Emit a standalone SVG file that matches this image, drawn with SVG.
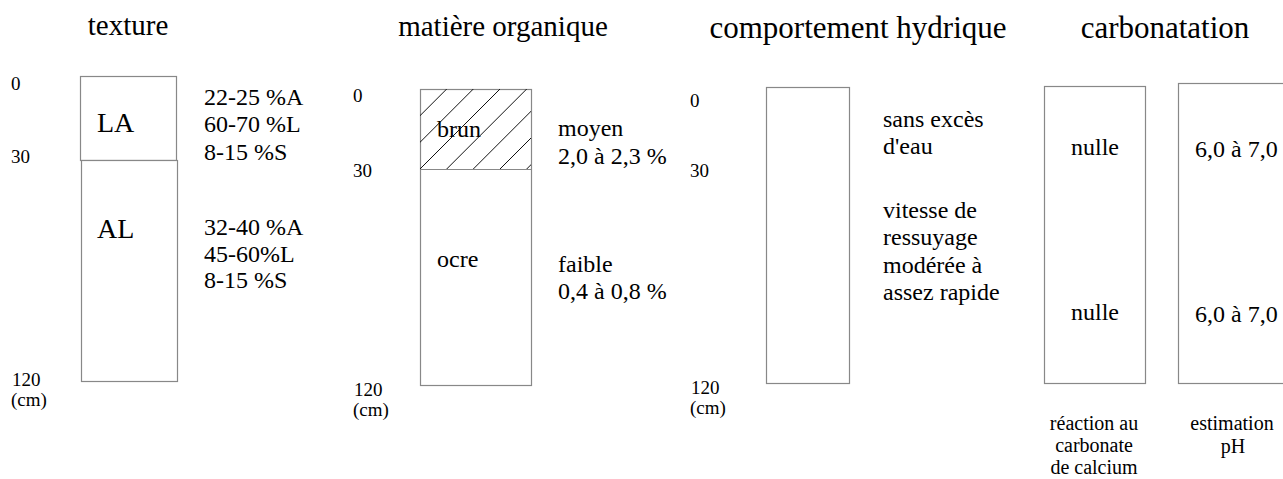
<svg xmlns="http://www.w3.org/2000/svg" width="1283" height="479" viewBox="0 0 1283 479" font-family="Liberation Serif, Tinos, Times New Roman, Times, serif">
<style>
text{font-family:"Liberation Serif",Tinos,"Times New Roman",Times,serif;fill:#000}
.h{font-size:29px}
.h2{font-size:31px}
.t{font-size:24px}
.s{font-size:19px}
.c{font-size:20px}
.big{font-size:28px}
.m{text-anchor:middle}
.box{fill:#fff;stroke:#888;stroke-width:1.2}
.hatch{stroke:#111;stroke-width:1}
</style>
<defs>
<clipPath id="clipBrun"><rect x="420" y="89" width="111" height="80"/></clipPath>
</defs>
<rect width="1283" height="479" fill="#fff"/>

<g id="texture">
<text class="h m" x="128" y="35">texture</text>
<text class="s" x="11" y="90">0</text>
<text class="s" x="11" y="163">30</text>
<text class="s" x="12" y="386">120</text>
<text class="s" x="11" y="406">(cm)</text>
<rect class="box" x="80.5" y="76.5" width="96" height="84"/>
<rect class="box" x="81.5" y="160.5" width="96" height="221"/>
<text class="big" x="97" y="132">LA</text>
<text class="big" x="97" y="238">AL</text>
<text class="t" x="204" y="105">22-25 %A</text>
<text class="t" x="204" y="132">60-70 %L</text>
<text class="t" x="204" y="160">8-15 %S</text>
<text class="t" x="204" y="235">32-40 %A</text>
<text class="t" x="204" y="262">45-60%L</text>
<text class="t" x="204" y="288">8-15 %S</text>
</g>

<g id="matiere">
<text class="h m" x="503" y="36">matière organique</text>
<text class="s" x="353" y="102">0</text>
<text class="s" x="353" y="177">30</text>
<text class="s" x="354" y="396">120</text>
<text class="s" x="353" y="416">(cm)</text>
<rect class="box" x="420.5" y="89.5" width="111" height="296"/>
<g clip-path="url(#clipBrun)" class="hatch">
<path d="M420 169L500 89M446.7 169L526.7 89M473.3 169L553.3 89M500 169L580 89M526.7 169L606.7 89M393.3 169L473.3 89M366.7 169L446.7 89M340 169L420 89"/>
</g>
<line x1="420.5" y1="169.5" x2="531.5" y2="169.5" stroke="#888" stroke-width="1.2"/>
<text class="t" x="437" y="137">brun</text>
<text class="t" x="437" y="267">ocre</text>
<text class="t" x="558" y="136">moyen</text>
<text class="t" x="558" y="164">2,0 à 2,3 %</text>
<text class="t" x="558" y="272">faible</text>
<text class="t" x="558" y="299">0,4 à 0,8 %</text>
</g>

<g id="hydrique">
<text class="h2 m" x="858" y="38">comportement hydrique</text>
<text class="s" x="690" y="107">0</text>
<text class="s" x="690" y="177">30</text>
<text class="s" x="691" y="394">120</text>
<text class="s" x="690" y="414">(cm)</text>
<rect class="box" x="766.5" y="87.5" width="83" height="296"/>
<text class="t" x="883" y="127">sans excès</text>
<text class="t" x="883" y="154">d'eau</text>
<text class="t" x="883" y="218">vitesse de</text>
<text class="t" x="883" y="245">ressuyage</text>
<text class="t" x="883" y="273">modérée à</text>
<text class="t" x="883" y="300">assez rapide</text>
</g>

<g id="carbonatation">
<text class="h2 m" x="1165" y="38">carbonatation</text>
<rect class="box" x="1044.5" y="86.5" width="101" height="297"/>
<rect class="box" x="1178.5" y="83.5" width="110" height="300"/>
<text class="t m" x="1095" y="155">nulle</text>
<text class="t m" x="1095" y="320">nulle</text>
<text class="t" x="1195" y="157">6,0 à 7,0</text>
<text class="t" x="1195" y="322">6,0 à 7,0</text>
<text class="c m" x="1094" y="430">réaction au</text>
<text class="c m" x="1094" y="452">carbonate</text>
<text class="c m" x="1094" y="474">de calcium</text>
<text class="c m" x="1232" y="430" font-size="21">estimation</text>
<text class="c m" x="1233" y="453" font-size="21">pH</text>
</g>
</svg>
